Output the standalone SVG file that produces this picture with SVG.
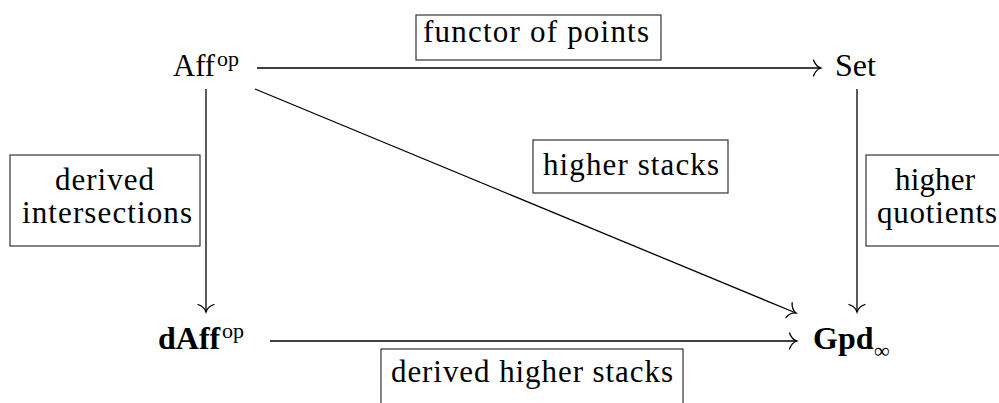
<svg xmlns="http://www.w3.org/2000/svg" width="999" height="403" viewBox="0 0 999 403">
<style>
  .node { font-family: "Liberation Serif", "DejaVu Serif", serif; font-size: 32px; fill: #000; }
  .bold { font-weight: bold; }
  .sup { font-family: "Liberation Serif", "DejaVu Serif", serif; font-size: 22px; fill: #000; }
  .lbl { font-family: "Liberation Serif", "DejaVu Serif", serif; font-size: 31px; fill: #000; }
  .box { fill: #fff; stroke: #333; stroke-width: 1.2; }
  .edge { stroke: #000; stroke-width: 1.3; fill: none; marker-end: url(#to); }
</style>
<defs>
  <marker id="to" markerUnits="userSpaceOnUse" viewBox="-10 -10 12 20" refX="0" refY="0" markerWidth="12" markerHeight="20" orient="auto">
    <path d="M -7.5,-8 C -6,-3.5 -2.5,-0.8 0,0 C -2.5,0.8 -6,3.5 -7.5,8" fill="none" stroke="#000" stroke-width="1.3" stroke-linecap="round"/>
  </marker>
</defs>
<rect width="999" height="403" fill="#fff"/>

<g id="connectors">
  <line class="edge" x1="257" y1="68" x2="821" y2="68"/>
  <line class="edge" x1="206" y1="89" x2="206" y2="312"/>
  <line class="edge" x1="857" y1="89" x2="857" y2="312"/>
  <line class="edge" x1="255" y1="89" x2="796" y2="313"/>
  <line class="edge" x1="270" y1="341" x2="797" y2="341"/>
</g>

<g id="node-aff">
  <text class="node" x="173" y="76" textLength="42" lengthAdjust="spacingAndGlyphs">Aff</text>
  <text class="sup" x="217" y="66">op</text>
</g>
<g id="node-set">
  <text class="node" x="835" y="76">Set</text>
</g>
<g id="node-daff">
  <text class="node bold" x="158" y="349">dAff</text>
  <text class="sup" x="222" y="338">op</text>
</g>
<g id="node-gpd">
  <text class="node bold" x="813" y="349">Gpd</text>
  <text class="sup" x="874" y="358">∞</text>
</g>

<g id="label-functor-of-points">
  <rect class="box" x="416" y="15" width="245" height="45"/>
  <text class="lbl" x="423" y="42" textLength="226" lengthAdjust="spacing">functor of points</text>
</g>
<g id="label-higher-stacks">
  <rect class="box" x="533" y="140" width="195" height="53"/>
  <text class="lbl" x="543" y="175" textLength="176" lengthAdjust="spacing">higher stacks</text>
</g>
<g id="label-derived-intersections">
  <rect class="box" x="10" y="155" width="190" height="91"/>
  <text class="lbl" x="55" y="190" textLength="99" lengthAdjust="spacing">derived</text>
  <text class="lbl" x="22" y="223" textLength="170" lengthAdjust="spacing">intersections</text>
</g>
<g id="label-higher-quotients">
  <rect class="box" x="866" y="155" width="140" height="91"/>
  <text class="lbl" x="895" y="190" textLength="80" lengthAdjust="spacing">higher</text>
  <text class="lbl" x="877" y="223" textLength="120" lengthAdjust="spacing">quotients</text>
</g>
<g id="label-derived-higher-stacks">
  <rect class="box" x="381" y="349" width="302" height="70"/>
  <text class="lbl" x="391" y="382" textLength="282" lengthAdjust="spacing">derived higher stacks</text>
</g>
</svg>
